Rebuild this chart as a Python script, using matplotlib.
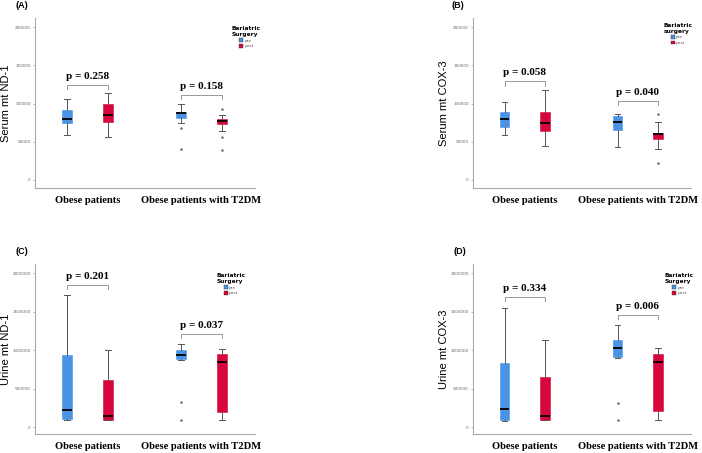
import matplotlib
matplotlib.use('Agg')
import matplotlib.pyplot as plt
from matplotlib.patches import Patch

# 그룹 / 색상
groups = ['Obese patients', 'Obese patients with T2DM']
surgery = ['pre', 'post']
colors = ['#4a93e4', '#d6063c']

# 패널별 박스 통계: [Obese pre, Obese post, T2DM pre, T2DM post]
# (whislo, q1, med, q3, whishi, fliers)
serum_nd1 = [
    (58700, 73900, 80400, 91300, 106500, []),
    (56500, 76100, 85600, 99600, 113900, []),
    (73900, 81700, 87000, 89100, 99600, [67400, 40400]),
    (63900, 72600, 77000, 80400, 84800, [92600, 55700, 39100]),
]
serum_cox3 = [
    (58300, 69600, 79100, 88300, 102200, []),
    (44300, 63900, 74800, 88300, 117400, []),
    (43000, 65200, 75200, 83500, 86500, []),
    (40000, 53000, 60000, 61700, 75700, [85700, 21700]),
]
urine_nd1 = [
    (87000, 104000, 226000, 930000, 1713000, []),
    (87000, 96000, 139000, 613000, 1004000, []),
    (870000, 878000, 935000, 1000000, 1083000, [322000, 96000]),
    (87000, 191000, 843000, 948000, 1017000, []),
]
urine_cox3 = [
    (83000, 87000, 230000, 826000, 1548000, []),
    (87000, 96000, 139000, 648000, 1135000, []),
    (900000, 909000, 1022000, 1130000, 1326000, [313000, 96000]),
    (96000, 204000, 839000, 952000, 1030000, []),
]

# p-value: (text, bracket y, text y) for each group
p_nd1_serum = [('p = 0.258', 123900, 129000), ('p = 0.158', 111700, 117000)]
p_cox3_serum = [('p = 0.058', 129100, 134500), ('p = 0.040', 103500, 108500)]
p_nd1_urine = [('p = 0.201', 1844000, 1900000), ('p = 0.037', 1213000, 1265000)]
p_cox3_urine = [('p = 0.334', 1691000, 1745000), ('p = 0.006', 1452000, 1505000)]

yticks_serum = [0, 50000, 100000, 150000, 200000]
yticks_urine = [0, 500000, 1000000, 1500000, 2000000]

W, H = 702, 453
fig = plt.figure(figsize=(W / 100, H / 100), dpi=100)

def px_axes(x0, x1, y0, y1):
    return fig.add_axes([x0 / W, 1 - y1 / H, (x1 - x0) / W, (y1 - y0) / H])

panels = [
    ('(A)', (35, 255, 18, 188), serum_nd1, p_nd1_serum, yticks_serum, (-10460, 211800),
     'Serum mt ND-1', 'Bariatric\nSurgery', (0.885, 0.965), (15, 5)),
    ('(B)', (473, 691, 18, 188), serum_cox3, p_cox3_serum, yticks_serum, (-10460, 211800),
     'Serum mt COX-3', 'Bariatric\nsurgery', (0.865, 0.985), (452, 5)),
    ('(C)', (35, 255, 264, 434), urine_nd1, p_nd1_urine, yticks_urine, (-90900, 2116900),
     'Urine mt ND-1', 'Bariatric\nSurgery', (0.815, 0.96), (16, 251)),
    ('(D)', (473, 691, 264, 434), urine_cox3, p_cox3_urine, yticks_urine, (-90900, 2116900),
     'Urine mt COX-3', 'Bariatric\nSurgery', (0.87, 0.96), (453, 251)),
]

offset = 0.18
positions = [1 - offset, 1 + offset, 2 - offset, 2 + offset]

for tag, box, data, pvals, yticks, ylim, ylabel, legtitle, legpos, tagpos in panels:
    ax = px_axes(*box)
    stats = []
    for d in data:
        stats.append(dict(whislo=d[0], q1=d[1], med=d[2], q3=d[3], whishi=d[4], fliers=d[5]))
    bp = ax.bxp(stats, positions=positions, widths=0.085, patch_artist=True,
                capwidths=0.05,
                medianprops=dict(color='black', linewidth=1.3),
                whiskerprops=dict(color='#555555', linewidth=0.7),
                capprops=dict(color='#555555', linewidth=0.7),
                flierprops=dict(marker='*', markersize=2, markerfacecolor='#666666',
                                markeredgecolor='#666666', markeredgewidth=0.3,
                                linestyle='none'))
    for i, patch in enumerate(bp['boxes']):
        patch.set_facecolor(colors[i % 2])
        patch.set_edgecolor(colors[i % 2])
        patch.set_linewidth(0.4)

    ax.set_xlim(0.54, 2.47)
    ax.set_ylim(*ylim)
    ax.set_yticks(yticks)
    ax.set_yticklabels([str(t) for t in yticks], fontsize=3.0, color='#666666')
    ax.set_xticks([1, 2])
    ax.set_xticklabels(groups, fontsize=7.6, fontweight='bold', family='Liberation Serif')
    ax.tick_params(axis='x', length=0, pad=6)
    ax.tick_params(axis='y', length=1.5, width=0.5, color='#999999', pad=1.5)
    for s in ['top', 'right']:
        ax.spines[s].set_visible(False)
    for s in ['left', 'bottom']:
        ax.spines[s].set_color('#aaaaaa')
        ax.spines[s].set_linewidth(0.8)

    # p-value 브래킷
    drop = (ylim[1] - ylim[0]) * 0.025
    for g, (txt, yb, yt) in enumerate(pvals):
        xa, xb = positions[2 * g], positions[2 * g + 1]
        ax.plot([xa, xa, xb, xb], [yb - drop, yb, yb, yb - drop], color='#999999', linewidth=0.7)
        ax.text((xa + xb) / 2, yt, txt, ha='center', va='bottom', fontsize=8,
                fontweight='bold', family='Liberation Serif')

    handles = [Patch(facecolor=colors[0], edgecolor='#333333', linewidth=0.3, label=surgery[0]),
               Patch(facecolor=colors[1], edgecolor='#333333', linewidth=0.3, label=surgery[1])]
    leg = ax.legend(handles=handles, title=legtitle, loc='upper left', bbox_to_anchor=legpos,
                    frameon=False, fontsize=3.2, title_fontsize=4.2, handlelength=0.9,
                    handleheight=0.9, handletextpad=0.2, labelspacing=0.3, borderpad=0,
                    alignment='center')
    leg.get_title().set_fontweight('bold')
    for t in leg.get_texts():
        t.set_color('#555555')

    fig.text((box[0] - 29) / W, 1 - (box[2] + box[3]) / 2 / H, ylabel, rotation=90,
             ha='center', va='center', fontsize=8, family='Liberation Sans')
    fig.text(tagpos[0] / W, 1 - tagpos[1] / H, tag, ha='left', va='center', fontsize=6.5,
             fontweight='bold', family='Liberation Sans')

fig.savefig('out.png', dpi=100)
